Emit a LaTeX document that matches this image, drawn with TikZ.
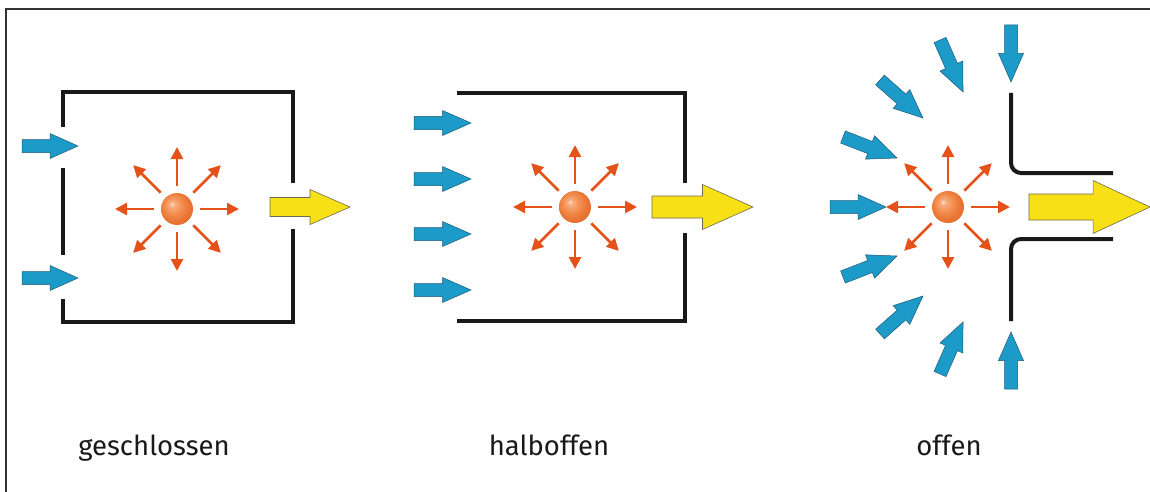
\documentclass[tikz,border=0pt]{standalone}
\usepackage{fontspec}
\setmainfont{Fira Sans}
\usetikzlibrary{calc,arrows.meta}
\definecolor{bluefill}{RGB}{28,155,200}
\definecolor{blueline}{RGB}{30,90,120}
\definecolor{yellowfill}{RGB}{248,224,22}
\definecolor{yellowline}{RGB}{110,105,80}
\definecolor{orangearr}{RGB}{228,82,26}
\definecolor{framec}{RGB}{50,50,50}
\pgfdeclareradialshading{sphereshade}{\pgfpoint{-8bp}{8bp}}{%
  rgb(0bp)=(1,0.9,0.82);
  rgb(4bp)=(0.97,0.68,0.5);
  rgb(14bp)=(0.95,0.55,0.3);
  rgb(24bp)=(0.91,0.45,0.2);
  rgb(50bp)=(0.88,0.4,0.16)}
\tikzset{
  wall/.style={line width=4pt, draw=black!90, line join=miter},
  framel/.style={line width=1.5pt, draw=framec},
  bluearr/.style={fill=bluefill, draw=blueline, line width=0.5pt, line join=miter},
  yellowarr/.style={fill=yellowfill, draw=yellowline, line width=0.6pt, line join=miter},
  orarr/.style={draw=orangearr, line width=2.6pt, -{Triangle[length=12pt,width=12pt]}},
  sphere/.style={circle, minimum size=32pt, inner sep=0pt, shading=sphereshade},
  lab/.style={anchor=base, font=\fontsize{27.5}{32}\selectfont, text=black!90}
}
% #1 style, #2 tail name, #3 tip name, #4 head fraction, #5 shaft half width, #6 head half width
\newcommand\fatarrow[6]{%
  \coordinate (#2m) at ($(#2)!#4!(#3)$);
  \filldraw[#1] ($(#2)!#5pt!90:(#3)$) -- ($(#2m)!#5pt!90:(#3)$) -- ($(#2m)!#6pt!90:(#3)$) --
    (#3) -- ($(#2m)!#6pt!-90:(#3)$) -- ($(#2m)!#5pt!-90:(#3)$) -- ($(#2)!#5pt!-90:(#3)$) -- cycle;
}
\newcommand\bluearrow[2]{\fatarrow{bluearr}{#1}{#2}{0.5}{6.5}{12.5}}
\newcommand\rays[1]{%
  \foreach \a in {0,45,...,315}{\draw[orarr] ($(#1)+(\a:23)$) -- ($(#1)+(\a:62)$);}
}
\begin{document}
\begin{tikzpicture}[x=1pt,y=-1pt]
\useasboundingbox (0,0) rectangle (1150,492);
% frame
\draw[framel] (1150,9) -- (6,9) -- (6,492);

% ---------- left panel: geschlossen ----------
\draw[wall] (63,127) -- (63,92) -- (293,92) -- (293,183);
\draw[wall] (63,168) -- (63,255);
\draw[wall] (63,299) -- (63,322) -- (293,322) -- (293,229);
\coordinate (a1t) at (22,146); \coordinate (a1h) at (78,146);
\coordinate (a2t) at (22,278); \coordinate (a2h) at (78,278);
\bluearrow{a1t}{a1h}
\bluearrow{a2t}{a2h}
\node[sphere] (s1) at (177,209) {};
\rays{s1}
\coordinate (y1t) at (270,207); \coordinate (y1h) at (350,207);
\fatarrow{yellowarr}{y1t}{y1h}{0.5}{9.5}{17.5}
\node[lab] (l1) at (154,455) {geschlossen};

% ---------- middle panel: halboffen ----------
\draw[wall] (457,93) -- (685,93) -- (685,183);
\draw[wall] (685,233) -- (685,321) -- (457,321);
\foreach \i/\yy in {1/123,2/179,3/234,4/290}{
  \coordinate (b\i t) at (414,\yy); \coordinate (b\i h) at (471,\yy);
  \bluearrow{b\i t}{b\i h}
}
\node[sphere] (s2) at (575,207) {};
\rays{s2}
\coordinate (y2t) at (652,207); \coordinate (y2h) at (753,207);
\fatarrow{yellowarr}{y2t}{y2h}{0.5}{11}{22.5}
\node[lab] (l2) at (549,455) {halboffen};

% ---------- right panel: offen ----------
\draw[wall, rounded corners=10pt] (1011,93) -- (1011,173) -- (1113,173);
\draw[wall, rounded corners=10pt] (1113,239) -- (1011,239) -- (1011,321);
\coordinate (c1t) at (1011,25);  \coordinate (c1h) at (1011,82);
\coordinate (c2t) at (940,40);   \coordinate (c2h) at (963,92);
\coordinate (c3t) at (880,80);   \coordinate (c3h) at (923,118);
\coordinate (c4t) at (843,137);  \coordinate (c4h) at (897,158);
\coordinate (c5t) at (830,207);  \coordinate (c5h) at (886,207);
\coordinate (c6t) at (843,277);  \coordinate (c6h) at (897,256);
\coordinate (c7t) at (880,334);  \coordinate (c7h) at (923,296);
\coordinate (c8t) at (940,374);  \coordinate (c8h) at (963,322);
\coordinate (c9t) at (1011,389); \coordinate (c9h) at (1011,332);
\foreach \i in {1,...,9}{\bluearrow{c\i t}{c\i h}}
\node[sphere] (s3) at (948,207) {};
\rays{s3}
\coordinate (y3t) at (1029,207); \coordinate (y3h) at (1150,207);
\fatarrow{yellowarr}{y3t}{y3h}{0.53}{13}{26.5}
\node[lab] (l3) at (949,455) {offen};
\end{tikzpicture}
\end{document}
